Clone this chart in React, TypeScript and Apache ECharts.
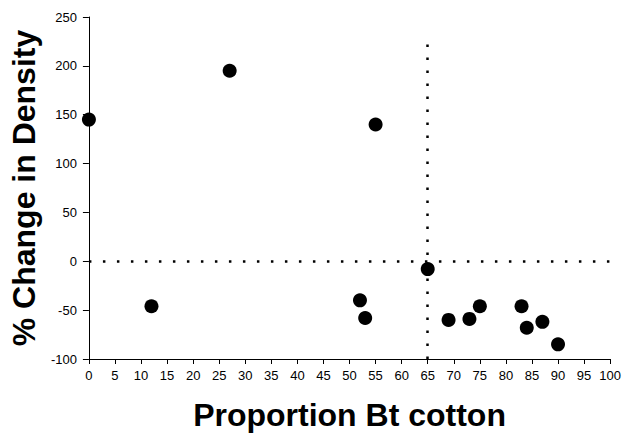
import React, { useEffect, useRef } from "react";
import * as echarts from "echarts";

const xValues = [0, 12, 27, 52, 53, 55, 65, 69, 73, 75, 83, 84, 87, 90];
const yValues = [145, -46, 195, -40, -58, 140, -8, -60, -59, -46, -46, -68, -62, -85];
const xTitle = "Proportion Bt cotton";
const yTitle = "% Change in Density";
const thresholdX = 65;
const vLineTop = 230;

const FONT = "'Liberation Sans', Arial, sans-serif";

export default function App() {
  const ref = useRef<HTMLDivElement>(null);
  useEffect(() => {
    document.body.style.margin = "0";
    if (!ref.current) return;
    const chart = echarts.init(ref.current, undefined, { renderer: "svg" });
    const data = xValues.map((x, i) => [x, yValues[i]]);
    chart.setOption({
      animation: false,
      backgroundColor: "#ffffff",
      textStyle: { fontFamily: FONT },
      grid: { left: 85, right: 12, top: 17, bottom: 72, containLabel: false },
      xAxis: {
        type: "value",
        min: 0,
        max: 100,
        interval: 5,
        name: xTitle,
        nameLocation: "middle",
        nameGap: 40,
        nameTextStyle: { fontFamily: FONT, fontSize: 32, fontWeight: "bold", color: "#000" },
        axisLine: { show: true, onZero: false, lineStyle: { color: "#000", width: 1 } },
        axisTick: { show: true, length: 5, lineStyle: { color: "#000" } },
        axisLabel: { fontFamily: FONT, fontSize: 13, color: "#000", margin: 10 },
        splitLine: { show: false },
      },
      yAxis: {
        type: "value",
        min: -100,
        max: 250,
        interval: 50,
        name: yTitle,
        nameLocation: "middle",
        nameGap: 46,
        nameRotate: 90,
        nameTextStyle: { fontFamily: FONT, fontSize: 32, fontWeight: "bold", color: "#000" },
        axisLine: { show: true, onZero: false, lineStyle: { color: "#000", width: 1 } },
        axisTick: { show: true, length: 6, lineStyle: { color: "#000" } },
        axisLabel: { fontFamily: FONT, fontSize: 13, color: "#000", margin: 12 },
        splitLine: { show: false },
      },
      series: [
        {
          type: "scatter",
          data,
          symbol: "circle",
          symbolSize: 14,
          itemStyle: { color: "#000", opacity: 1 },
          z: 3,
          markLine: {
            silent: true,
            symbol: "none",
            label: { show: false },
            z: 2,
            data: [
              [
                {
                  coord: [0, 0],
                  lineStyle: { color: "#000", width: 2.5, type: [2.5, 11.5] },
                },
                { coord: [100, 0] },
              ],
              [
                {
                  coord: [thresholdX, -100],
                  lineStyle: { color: "#000", width: 2.5, type: [2.5, 10.5] },
                },
                { coord: [thresholdX, vLineTop] },
              ],
            ],
          },
        },
      ],
    });
    return () => chart.dispose();
  }, []);
  return <div ref={ref} style={{ width: 624, height: 436 }} />;
}
